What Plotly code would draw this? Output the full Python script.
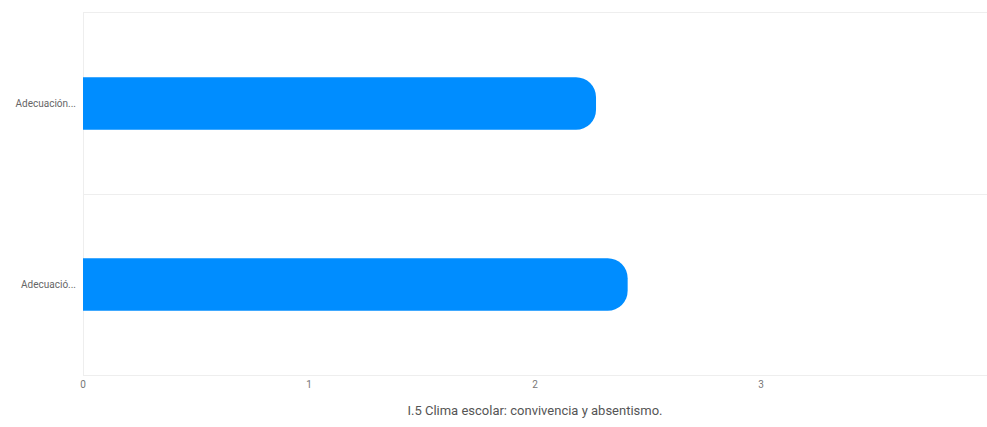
import plotly.graph_objects as go

categories = ["Adecuació...", "Adecuación..."]  # bottom to top
values = [2.41, 2.27]
x_ticks = [0, 1, 2, 3, 4]
title_text = "I.5 Clima escolar: convivencia y absentismo."

font_family = "Roboto, Arial, sans-serif"

fig = go.Figure(
    go.Bar(
        x=values,
        y=categories,
        orientation="h",
        marker=dict(color="#008dff", line=dict(width=0)),
        width=0.29,
        hoverinfo="x+y",
    )
)

fig.update_layout(
    width=987,
    height=427,
    margin=dict(l=83, r=0, t=13, b=52),
    paper_bgcolor="white",
    plot_bgcolor="white",
    barcornerradius=20,
    showlegend=False,
    font=dict(family=font_family, color="#555555", size=10),
    xaxis=dict(
        range=[0, 4],
        tickvals=x_ticks,
        ticktext=[str(t) for t in x_ticks],
        showgrid=False,
        zeroline=True,
        zerolinecolor="#eeeeee",
        zerolinewidth=1,
        showline=True,
        linecolor="#eeeeee",
        linewidth=1,
        mirror=True,
        ticks="",
        tickfont=dict(size=10, color="#777777"),
        title=dict(text=title_text, font=dict(size=13, color="#555555"), standoff=16),
        automargin=False,
        fixedrange=True,
    ),
    yaxis=dict(
        type="category",
        categoryorder="array",
        categoryarray=categories,
        range=[-0.5, 1.5],
        tickson="boundaries",
        showgrid=True,
        gridcolor="#eeeeee",
        gridwidth=1,
        zeroline=False,
        showline=False,
        ticks="",
        ticklabelstandoff=6,
        tickfont=dict(size=10, color="#666666"),
        automargin=False,
        fixedrange=True,
    ),
)

fig.write_html(
    "out.html",
    config={"displayModeBar": False},
    post_script="document.body.style.margin='0';document.body.style.overflow='hidden';",
)
